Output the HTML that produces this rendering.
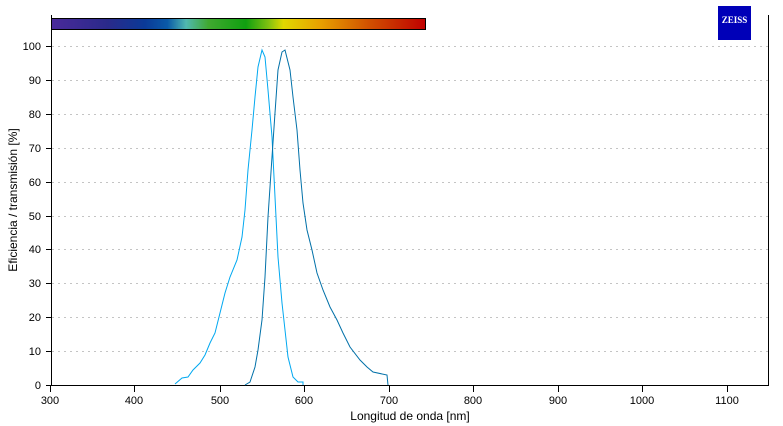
<!DOCTYPE html>
<html><head><meta charset="utf-8"><style>
html,body{margin:0;padding:0;background:#fff;}
svg{display:block;font-family:"Liberation Sans",sans-serif;}
</style></head><body>
<svg width="783" height="426" viewBox="0 0 783 426" xmlns="http://www.w3.org/2000/svg">
<defs>
<linearGradient id="sp" x1="0" x2="1" y1="0" y2="0">
<stop offset="0" stop-color="#4a2a9a"/>
<stop offset="0.15" stop-color="#2a2a8a"/>
<stop offset="0.25" stop-color="#0a3a98"/>
<stop offset="0.31" stop-color="#0a5aa8"/>
<stop offset="0.36" stop-color="#50b8b0"/>
<stop offset="0.42" stop-color="#40a830"/>
<stop offset="0.52" stop-color="#10a010"/>
<stop offset="0.58" stop-color="#80c010"/>
<stop offset="0.62" stop-color="#e0d800"/>
<stop offset="0.72" stop-color="#e8a000"/>
<stop offset="0.85" stop-color="#d05000"/>
<stop offset="1" stop-color="#c00000"/>
</linearGradient>
</defs>
<g stroke="#c4c4c4" stroke-dasharray="2,4" stroke-width="1">
<line x1="52" x2="768" y1="46.5" y2="46.5"/>
<line x1="52" x2="768" y1="80.5" y2="80.5"/>
<line x1="52" x2="768" y1="114.5" y2="114.5"/>
<line x1="52" x2="768" y1="148.5" y2="148.5"/>
<line x1="52" x2="768" y1="182.5" y2="182.5"/>
<line x1="52" x2="768" y1="216.5" y2="216.5"/>
<line x1="52" x2="768" y1="249.5" y2="249.5"/>
<line x1="52" x2="768" y1="283.5" y2="283.5"/>
<line x1="52" x2="768" y1="317.5" y2="317.5"/>
<line x1="52" x2="768" y1="351.5" y2="351.5"/>
</g>
<rect x="51.5" y="18.5" width="374" height="11" fill="url(#sp)" stroke="#000" stroke-width="1"/>
<g stroke="#000" stroke-width="1" fill="none">
<line x1="51.5" y1="15" x2="51.5" y2="385"/>
<line x1="768.5" y1="15" x2="768.5" y2="385"/>
<line x1="46" y1="385.5" x2="769" y2="385.5"/>
<line x1="46" x2="51" y1="46.5" y2="46.5"/><line x1="46" x2="51" y1="80.5" y2="80.5"/><line x1="46" x2="51" y1="114.5" y2="114.5"/><line x1="46" x2="51" y1="148.5" y2="148.5"/><line x1="46" x2="51" y1="182.5" y2="182.5"/><line x1="46" x2="51" y1="216.5" y2="216.5"/><line x1="46" x2="51" y1="249.5" y2="249.5"/><line x1="46" x2="51" y1="283.5" y2="283.5"/><line x1="46" x2="51" y1="317.5" y2="317.5"/><line x1="46" x2="51" y1="351.5" y2="351.5"/>
<line x1="50.5" x2="50.5" y1="385" y2="392"/><line x1="134.5" x2="134.5" y1="385" y2="392"/><line x1="220.5" x2="220.5" y1="385" y2="392"/><line x1="304.5" x2="304.5" y1="385" y2="392"/><line x1="389.5" x2="389.5" y1="385" y2="392"/><line x1="473.5" x2="473.5" y1="385" y2="392"/><line x1="558.5" x2="558.5" y1="385" y2="392"/><line x1="642.5" x2="642.5" y1="385" y2="392"/><line x1="727.5" x2="727.5" y1="385" y2="392"/>
</g>
<g font-size="11" fill="#000" text-anchor="end">
<text x="41" y="50">100</text><text x="41" y="84">90</text><text x="41" y="118">80</text><text x="41" y="152">70</text><text x="41" y="186">60</text><text x="41" y="220">50</text><text x="41" y="253">40</text><text x="41" y="287">30</text><text x="41" y="321">20</text><text x="41" y="355">10</text><text x="41" y="389">0</text>
</g>
<g font-size="11" fill="#000" text-anchor="middle">
<text x="50" y="404">300</text><text x="134" y="404">400</text><text x="220" y="404">500</text><text x="304" y="404">600</text><text x="389" y="404">700</text><text x="473" y="404">800</text><text x="558" y="404">900</text><text x="642" y="404">1000</text><text x="727" y="404">1100</text>
</g>
<text x="410" y="420" font-size="12" text-anchor="middle">Longitud de onda [nm]</text>
<text transform="translate(17,200) rotate(-90)" font-size="12" text-anchor="middle">Eficiencia / transmisión [%]</text>
<polyline fill="none" stroke="#00a8f0" stroke-width="1" points="175,384 182,378 188,377 193,370 200,363 205,355 210,343 215,333 220,313 225,293 230,277 237,260 242,237 245,210 248,170 252,130 255,97 258,67 262,50 265,57 268,90 272,137 275,197 278,257 282,303 285,330 288,357 293,377 298,382 303,382 303,385"/>
<polyline fill="none" stroke="#0070a8" stroke-width="1" points="245,385 250,382 255,367 258,350 262,320 265,277 268,217 272,157 275,113 278,70 282,52 285,50 290,70 293,97 297,130 300,170 303,203 307,230 312,250 317,273 323,290 330,307 337,320 343,333 350,347 360,360 367,367 373,372 387,375 388,385"/>
<rect x="718" y="6" width="33" height="28" fill="#0000b8"/>
<path d="M718,34 Q734,29 751,34 L751,40 L718,40 Z" fill="#0000b8"/>
<text x="734.5" y="23" font-size="9" font-weight="bold" fill="#fff" text-anchor="middle" font-family="Liberation Serif,serif">ZEISS</text>
</svg>
</body></html>
